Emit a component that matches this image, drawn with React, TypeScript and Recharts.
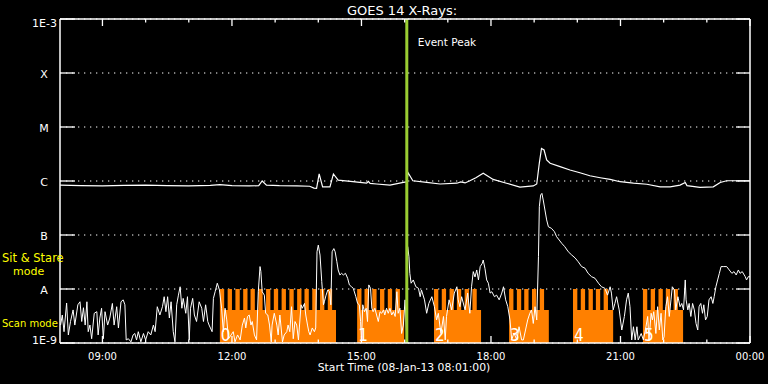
import React from 'react'
import {
  ComposedChart,
  Line,
  Area,
  Scatter,
  XAxis,
  YAxis,
  CartesianGrid,
  ReferenceLine,
} from 'recharts'

// time axis in decimal hours of 08-Jan-13 (24 = 00:00 next day)
const startHour = 8 + 1 / 60
const endHour = 24
const hourTicks = [9, 10, 11, 12, 13, 14, 15, 16, 17, 18, 19, 20, 21, 22, 23, 24]

const fluxTicks = [1e-9, 1e-8, 1e-7, 1e-6, 1e-5, 1e-4, 1e-3]
const fluxLabels = ['1E-9', 'A', 'B', 'C', 'M', 'X', '1E-3']

const eventPeak = 16.05

// GOES 14 long channel (1-8 A), [hour, W/m2]
const longChannel: [number, number][] = [
  [8.02, 8.4e-7], [8.5, 8.2e-7], [9.0, 8.1e-7], [9.5, 8.3e-7], [10.0, 8.4e-7],
  [10.5, 8.2e-7], [11.0, 8.1e-7], [11.5, 8.3e-7], [11.72, 8.6e-7], [12.0, 8.2e-7],
  [12.4, 8.1e-7], [12.62, 8.2e-7], [12.7, 1.0e-6], [12.8, 8.4e-7], [13.1, 8.2e-7],
  [13.5, 8.1e-7], [13.8, 8.0e-7], [13.9, 7.4e-7], [13.96, 7.3e-7], [14.02, 1.35e-6],
  [14.1, 7.8e-7], [14.27, 7.8e-7], [14.35, 1.35e-6], [14.46, 1.04e-6], [14.8, 9.7e-7],
  [15.12, 9.1e-7], [15.16, 9.8e-7], [15.2, 9.0e-7], [15.35, 8.8e-7], [15.66, 8.4e-7],
  [15.97, 9.4e-7], [16.05, 9.6e-7], [16.08, 1.42e-6], [16.19, 1.01e-6], [16.51, 9.4e-7],
  [16.82, 8.8e-7], [17.21, 9.1e-7], [17.3, 9.6e-7], [17.4, 9.2e-7], [17.51, 1.01e-6],
  [17.65, 1.15e-6], [17.82, 1.39e-6], [18.05, 1.07e-6], [18.36, 9.1e-7], [18.67, 7.7e-7],
  [18.98, 8.1e-7], [19.06, 8.8e-7], [19.12, 2.15e-6], [19.17, 4.0e-6], [19.23, 3.75e-6],
  [19.29, 2.45e-6], [19.37, 2.13e-6], [19.6, 1.85e-6], [19.83, 1.6e-6], [20.06, 1.42e-6],
  [20.29, 1.25e-6], [20.53, 1.15e-6], [20.76, 1.07e-6], [20.99, 9.7e-7], [21.3, 9.1e-7],
  [21.61, 8.7e-7], [21.92, 7.8e-7], [22.15, 7.8e-7], [22.38, 8.4e-7], [22.5, 9.4e-7],
  [22.54, 8.2e-7], [22.84, 7.6e-7], [23.15, 7.8e-7], [23.31, 9.4e-7], [23.46, 1.01e-6],
  [24.0, 1.01e-6],
]

// GOES 14 short channel (0.5-4 A), [hour, W/m2]
const shortChannel: [number, number][] = [
  [8.03, 2.15e-9], [8.07, 3.3e-9], [8.11, 1.62e-9], [8.17, 5.5e-9], [8.21, 1.41e-9],
  [8.26, 2.5e-9], [8.32, 4.1e-9], [8.36, 2.15e-9], [8.43, 5.1e-9], [8.48, 5.8e-9],
  [8.52, 2.5e-9], [8.56, 4.5e-9], [8.6, 2.15e-9], [8.64, 5.8e-9], [8.67, 1.62e-9],
  [8.71, 2.15e-9], [8.75, 1.2e-9], [8.81, 3.55e-9], [8.87, 3.8e-9], [8.9, 1.41e-9],
  [8.94, 2.9e-9], [8.98, 4.4e-9], [9.02, 1.2e-9], [9.06, 3.8e-9], [9.12, 2.15e-9],
  [9.17, 2.9e-9], [9.23, 5.4e-9], [9.27, 2.15e-9], [9.33, 4.7e-9], [9.37, 1.9e-9],
  [9.43, 5.8e-9], [9.48, 6.3e-9], [9.52, 5.1e-9], [9.55, 1.14e-9], [9.6, 1.2e-9],
  [9.66, 1.05e-9], [9.71, 1.41e-9], [9.75, 1.5e-9], [9.79, 1.14e-9], [9.83, 1.62e-9],
  [9.89, 1.05e-9], [9.95, 1.5e-9], [10.0, 1.14e-9], [10.06, 1.62e-9], [10.12, 1.41e-9],
  [10.18, 2.15e-9], [10.22, 1.62e-9], [10.27, 4.7e-9], [10.33, 3.3e-9], [10.39, 4.7e-9],
  [10.43, 7.2e-9], [10.47, 3.8e-9], [10.51, 7.2e-9], [10.55, 2.9e-9], [10.59, 5.8e-9],
  [10.64, 1.62e-9], [10.68, 1.05e-9], [10.72, 5.1e-9], [10.76, 7.7e-9], [10.8, 1.1e-8],
  [10.84, 4.4e-9], [10.87, 6.7e-9], [10.93, 3.55e-9], [10.97, 7.2e-9], [11.01, 1.14e-9],
  [11.04, 4.4e-9], [11.09, 6.7e-9], [11.13, 3.3e-9], [11.18, 2.5e-9], [11.24, 5.8e-9],
  [11.3, 4.4e-9], [11.34, 2.5e-9], [11.39, 5.1e-9], [11.44, 2.5e-9], [11.47, 2.15e-9],
  [11.54, 1.62e-9], [11.57, 6.7e-9], [11.61, 8.9e-9], [11.66, 1.28e-8], [11.71, 9.6e-9],
  [11.76, 4.4e-9], [11.8, 1.62e-9], [11.84, 4.4e-9], [11.88, 2.67e-9], [11.92, 1.2e-9],
  [11.98, 1.41e-9], [12.03, 1.62e-9], [12.07, 1.05e-9], [12.13, 1.41e-9], [12.19, 1.14e-9],
  [12.24, 2.15e-9], [12.29, 2.9e-9], [12.32, 1.9e-9], [12.36, 3.1e-9], [12.4, 3.3e-9],
  [12.44, 2.15e-9], [12.47, 2.5e-9], [12.52, 1.41e-9], [12.57, 1.14e-9], [12.61, 8.9e-9],
  [12.65, 2.6e-8], [12.67, 2.1e-8], [12.7, 8.9e-9], [12.75, 7.7e-9], [12.78, 3.55e-9],
  [12.83, 3.3e-9], [12.87, 2.15e-9], [12.91, 1.05e-9], [12.93, 2.15e-9], [12.98, 3.55e-9],
  [13.04, 2.15e-9], [13.07, 1.41e-9], [13.11, 3.3e-9], [13.17, 1.05e-9], [13.21, 1.41e-9],
  [13.27, 1.62e-9], [13.3, 2.15e-9], [13.34, 1.62e-9], [13.38, 4.7e-9], [13.42, 1.2e-9],
  [13.46, 2.5e-9], [13.5, 2.15e-9], [13.54, 1.14e-9], [13.6, 5.1e-9], [13.63, 4.4e-9],
  [13.68, 5.4e-9], [13.71, 3.3e-9], [13.75, 2.15e-9], [13.78, 1.62e-9], [13.81, 1.41e-9],
  [13.86, 1.9e-9], [13.91, 1.62e-9], [13.94, 1.9e-9], [13.97, 4.9e-8], [14.0, 6.5e-8],
  [14.04, 4.25e-8], [14.08, 1.37e-8], [14.12, 5.1e-9], [14.14, 5.8e-9], [14.18, 7.7e-9],
  [14.22, 9.6e-9], [14.26, 8.9e-9], [14.29, 5.1e-9], [14.32, 4.9e-8], [14.36, 5.6e-8],
  [14.39, 4.9e-8], [14.43, 3.2e-8], [14.46, 2.25e-8], [14.5, 1.82e-8], [14.54, 1.95e-8],
  [14.58, 1.82e-8], [14.63, 1.95e-8], [14.68, 1.58e-8], [14.72, 1.19e-8], [14.77, 1.1e-8],
  [14.81, 1.03e-8], [14.87, 7.2e-9], [14.91, 5.4e-9], [14.95, 5.1e-9], [14.98, 2.5e-9],
  [15.0, 1.05e-9], [15.03, 5.1e-9], [15.07, 3.8e-9], [15.11, 4.4e-9], [15.14, 2.5e-9],
  [15.17, 1.19e-8], [15.21, 1.03e-8], [15.24, 4.4e-9], [15.27, 3.8e-9], [15.31, 4.4e-9],
  [15.35, 3.3e-9], [15.39, 2.5e-9], [15.43, 3.8e-9], [15.47, 3.55e-9], [15.51, 4.1e-9],
  [15.54, 3.3e-9], [15.58, 4.4e-9], [15.62, 3.55e-9], [15.66, 4.4e-9], [15.7, 3.3e-9],
  [15.74, 3.8e-9], [15.78, 3.1e-9], [15.82, 8.9e-9], [15.85, 3.55e-9], [15.89, 4.4e-9],
  [15.93, 1.5e-9], [15.97, 2.15e-9], [16.01, 6.3e-9], [16.05, 1.14e-9], [16.07, 6.1e-8],
  [16.1, 3.96e-8], [16.12, 1.95e-8], [16.15, 1.28e-8], [16.2, 1.47e-8], [16.26, 1.1e-8],
  [16.32, 1.03e-8], [16.36, 7.2e-9], [16.39, 9.6e-9], [16.46, 6.3e-9], [16.51, 3.55e-9],
  [16.56, 5.4e-9], [16.63, 7.2e-9], [16.69, 4.7e-9], [16.74, 2.67e-9], [16.78, 3.55e-9],
  [16.84, 1.5e-9], [16.9, 3.1e-9], [16.94, 1.14e-9], [16.97, 3.1e-9], [17.03, 6.3e-9],
  [17.09, 4.1e-9], [17.15, 8.4e-9], [17.21, 1.1e-8], [17.24, 6.3e-9], [17.28, 4.7e-9],
  [17.32, 7.2e-9], [17.4, 4.1e-9], [17.46, 8.4e-9], [17.51, 3.55e-9], [17.55, 1.1e-8],
  [17.59, 2.1e-8], [17.63, 1.67e-8], [17.67, 2.25e-8], [17.71, 1.47e-8], [17.75, 2.6e-8],
  [17.8, 3.0e-8], [17.82, 3.44e-8], [17.86, 2.42e-8], [17.9, 1.47e-8], [17.94, 1.28e-8],
  [17.98, 8.4e-9], [18.02, 8.9e-9], [18.08, 7.2e-9], [18.13, 7.7e-9], [18.19, 6.3e-9],
  [18.25, 8.4e-9], [18.29, 1.1e-8], [18.34, 6.3e-9], [18.39, 4.7e-9], [18.44, 2.67e-9],
  [18.48, 1.14e-9], [18.53, 1.53e-9], [18.6, 1.14e-9], [18.65, 2.0e-9], [18.71, 1.14e-9],
  [18.75, 1.14e-9], [18.8, 1.74e-9], [18.85, 2.67e-9], [18.9, 3.55e-9], [18.94, 4.1e-9],
  [18.98, 2.3e-9], [19.02, 4.7e-9], [19.06, 2.67e-9], [19.1, 3.96e-8], [19.12, 3.34e-7],
  [19.15, 5.5e-7], [19.18, 5.9e-7], [19.21, 4.45e-7], [19.25, 2.9e-7], [19.29, 1.9e-7],
  [19.33, 1.42e-7], [19.4, 1.33e-7], [19.47, 1.15e-7], [19.52, 9.3e-8], [19.58, 8.07e-8],
  [19.64, 7.0e-8], [19.71, 6.07e-8], [19.79, 4.9e-8], [19.87, 4.26e-8], [19.95, 3.75e-8],
  [20.02, 3.2e-8], [20.1, 2.6e-8], [20.18, 2.42e-8], [20.25, 1.95e-8], [20.33, 1.69e-8],
  [20.41, 1.58e-8], [20.49, 1.28e-8], [20.56, 1.1e-8], [20.64, 1.03e-8], [20.7, 7.7e-9],
  [20.76, 1.1e-8], [20.79, 8.4e-9], [20.83, 4.1e-9], [20.87, 5.4e-9], [20.91, 7.2e-9],
  [20.97, 4.1e-9], [21.03, 1.74e-9], [21.09, 3.1e-9], [21.14, 6.3e-9], [21.18, 8.4e-9],
  [21.22, 4.7e-9], [21.26, 1.14e-9], [21.3, 2.0e-9], [21.34, 1.14e-9], [21.38, 2.0e-9],
  [21.41, 1.14e-9], [21.48, 1.5e-9], [21.53, 1.14e-9], [21.59, 2.0e-9], [21.63, 3.1e-9],
  [21.66, 1.14e-9], [21.71, 3.55e-9], [21.74, 2.67e-9], [21.77, 3.8e-9], [21.82, 1.5e-9],
  [21.86, 4.7e-9], [21.9, 1.74e-9], [21.94, 3.55e-9], [21.98, 1.14e-9], [22.01, 1.3e-9],
  [22.05, 4.7e-9], [22.09, 7.2e-9], [22.13, 3.1e-9], [22.17, 6.3e-9], [22.2, 1.1e-8],
  [22.25, 9.6e-9], [22.28, 4.1e-9], [22.33, 7.2e-9], [22.38, 4.7e-9], [22.42, 5.4e-9],
  [22.46, 4.1e-9], [22.5, 1.47e-8], [22.52, 6.3e-9], [22.56, 4.1e-9], [22.59, 5.4e-9],
  [22.63, 3.1e-9], [22.67, 5.4e-9], [22.71, 4.1e-9], [22.75, 2.3e-9], [22.79, 1.74e-9],
  [22.82, 4.7e-9], [22.86, 5.4e-9], [22.9, 3.55e-9], [22.93, 5.1e-9], [22.97, 2.67e-9],
  [23.01, 3.1e-9], [23.05, 6.3e-9], [23.1, 7.2e-9], [23.14, 5.4e-9], [23.17, 7.2e-9],
  [23.21, 1.1e-8], [23.25, 1.47e-8], [23.29, 1.95e-8], [23.33, 2.6e-8], [23.38, 2.6e-8],
  [23.46, 2.6e-8], [23.52, 2.25e-8], [23.58, 1.95e-8], [23.63, 2.1e-8], [23.68, 1.82e-8],
  [23.73, 2.25e-8], [23.77, 1.95e-8], [23.82, 2.1e-8], [23.89, 1.69e-8], [23.92, 1.47e-8],
  [23.96, 1.69e-8], [24.0, 1.69e-8],
]

// observing blocks: scan mode with sit & stare windows
const blockNames = ['0', '1', '2', '3', '4', '5']
const blockStart = [11.72, 14.9, 16.68, 18.42, 19.9, 21.52]
const blockEnd = [14.41, 15.99, 17.77, 19.34, 20.83, 22.45]
const stareStarts = [
  [11.72, 11.9, 12.08, 12.26, 12.43, 12.61, 12.79, 12.97, 13.15, 13.33, 13.51, 13.68, 13.86, 14.04, 14.22],
  [14.9, 15.07, 15.25, 15.43, 15.61, 15.79],
  [16.68, 16.86, 17.04, 17.21, 17.39, 17.57],
  [18.42, 18.6, 18.77, 18.95, 19.13],
  [19.9, 20.08, 20.26, 20.43, 20.61],
  [21.52, 21.7, 21.88, 22.05, 22.23],
]
const stareDuration = 0.1
const stareLevel = 1e-8
const scanLevel = 4.1e-9
const floorLevel = 1e-9

const longData = longChannel.map(([h, v]) => ({ h, v }))
const shortData = shortChannel.map(([h, v]) => ({ h, v }))

const modeSteps: { h: number; v: number }[] = [{ h: startHour, v: floorLevel }]
blockStart.forEach((s, i) => {
  stareStarts[i].forEach((t) => {
    modeSteps.push({ h: t, v: stareLevel })
    modeSteps.push({ h: t + stareDuration, v: scanLevel })
  })
  modeSteps.push({ h: blockEnd[i], v: floorLevel })
})
modeSteps.push({ h: endHour, v: floorLevel })

const blockLabels = blockStart.map((h, i) => ({ h, v: floorLevel, name: blockNames[i] }))

const FONT = "'DejaVu Sans', sans-serif"
const WHITE = '#ffffff'

const hourLabel = (h: number) => `${String(h % 24).padStart(2, '0')}:00`

// bottom axis: tickSize 0, tickMargin 8 -> y is 8px below the axis line
const BottomTick = (props: any) => {
  const { x, y, payload } = props
  const major = payload.value % 3 === 0
  const base = y - 8
  return (
    <g>
      <line x1={x} x2={x} y1={base} y2={base - (major ? 7 : 3.5)} stroke={WHITE} strokeWidth={1.3} />
      {major && (
        <text x={x} y={y + 8.5} textAnchor="middle" fill={WHITE} fontSize={10} fontFamily={FONT}>
          {hourLabel(payload.value)}
        </text>
      )}
    </g>
  )
}

const TopTick = (props: any) => {
  const { x, y, payload } = props
  const major = payload.value % 3 === 0
  return <line x1={x} x2={x} y1={y} y2={y + (major ? 7 : 3.5)} stroke={WHITE} strokeWidth={1.3} />
}

// left axis: inward tick of 15px, so the given x is 15px inside the axis line
const LeftTick = (props: any) => {
  const { x, y, index } = props
  const label = fluxLabels[index]
  const isEnd = index === 0 || index === fluxTicks.length - 1
  const ty = index === 0 ? y + 1 : index === fluxTicks.length - 1 ? y + 8 : y + 5
  return (
    <text
      x={isEnd ? x - 18 : x - 31}
      y={ty}
      textAnchor={isEnd ? 'end' : 'middle'}
      fill={WHITE}
      fontSize={11}
      fontFamily={FONT}
    >
      {label}
    </text>
  )
}

const NoTick = () => <g />

const BlockLabel = (props: any) => {
  const { cx, cy, payload } = props
  return (
    <text
      x={cx + 1}
      y={cy - 2}
      fill={WHITE}
      fontSize={17}
      fontFamily="'Liberation Sans Narrow', 'DejaVu Sans Condensed', sans-serif"
    >
      {payload.name}
    </text>
  )
}

const EventLabel = (props: any) => {
  const vb = props.viewBox || { x: 0, y: 0 }
  return (
    <text x={vb.x + 11} y={vb.y + 27} fill={WHITE} fontSize={10.5} fontFamily={FONT}>
      Event Peak
    </text>
  )
}

const textStyle = (extra: React.CSSProperties): React.CSSProperties => ({
  position: 'absolute',
  fontFamily: FONT,
  lineHeight: 1,
  whiteSpace: 'nowrap',
  ...extra,
})

const axisLine = { stroke: WHITE, strokeWidth: 1.5 }
const tickLine = { stroke: WHITE, strokeWidth: 1.3 }

export default function App() {
  return (
    <div style={{ position: 'fixed', left: 0, top: 0, width: 768, height: 384, background: '#000', overflow: 'hidden' }}>
      <ComposedChart width={768} height={384} margin={{ top: 18, right: 17, bottom: 0, left: 0 }}>
        <CartesianGrid vertical={false} stroke={WHITE} strokeDasharray="1.3 4.7" />
        <XAxis
          dataKey="h"
          type="number"
          domain={[startHour, endHour]}
          allowDataOverflow
          ticks={hourTicks}
          height={41}
          tickSize={0}
          tickMargin={8}
          tick={BottomTick}
          axisLine={axisLine}
          tickLine={false}
          interval={0}
        />
        <XAxis
          xAxisId="top"
          orientation="top"
          dataKey="h"
          type="number"
          domain={[startHour, endHour]}
          allowDataOverflow
          ticks={hourTicks}
          height={1}
          tickSize={0}
          tickMargin={0}
          tick={TopTick}
          axisLine={axisLine}
          tickLine={false}
          interval={0}
        />
        <YAxis
          type="number"
          scale="log"
          domain={[1e-9, 1e-3]}
          allowDataOverflow
          ticks={fluxTicks}
          width={60}
          tickSize={-15}
          tickMargin={0}
          tick={LeftTick}
          axisLine={axisLine}
          tickLine={tickLine}
          interval={0}
        />
        <YAxis
          yAxisId="right"
          orientation="right"
          type="number"
          scale="log"
          domain={[1e-9, 1e-3]}
          allowDataOverflow
          ticks={fluxTicks}
          width={1}
          tickSize={-14}
          tickMargin={0}
          tick={NoTick}
          axisLine={axisLine}
          tickLine={tickLine}
          interval={0}
        />
        <Area
          data={modeSteps}
          dataKey="v"
          type="stepAfter"
          baseValue="dataMin"
          stroke="none"
          fill="#ff8000"
          fillOpacity={1}
          isAnimationActive={false}
        />
        <Line data={longData} dataKey="v" type="linear" stroke={WHITE} strokeWidth={1.2} dot={false} isAnimationActive={false} />
        <Line data={shortData} dataKey="v" type="linear" stroke={WHITE} strokeWidth={1} dot={false} isAnimationActive={false} />
        <Scatter data={blockLabels} dataKey="v" shape={BlockLabel} isAnimationActive={false} />
        <ReferenceLine x={eventPeak} stroke="#9acd32" strokeWidth={3} label={EventLabel} />
      </ComposedChart>
      <div style={textStyle({ left: 202, width: 400, top: 3.5, textAlign: 'center', color: WHITE, fontSize: 13 })}>
        GOES 14 X-Rays:
      </div>
      <div style={textStyle({ left: 204, width: 400, top: 362.7, textAlign: 'center', color: WHITE, fontSize: 10.8 })}>
        Start Time (08-Jan-13 08:01:00)
      </div>
      <div style={textStyle({ left: 2, top: 252.5, color: '#ffff00', fontSize: 11.5 })}>Sit &amp; Stare</div>
      <div style={textStyle({ left: 13, top: 265.7, color: '#ffff00', fontSize: 11 })}>mode</div>
      <div style={textStyle({ left: 2, top: 318.5, color: '#ffff00', fontSize: 10 })}>Scan mode</div>
    </div>
  )
}
